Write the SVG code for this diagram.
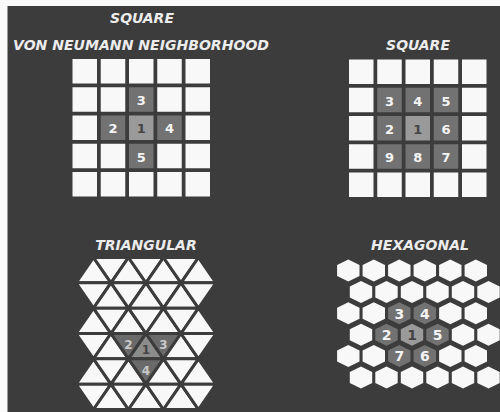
<svg xmlns="http://www.w3.org/2000/svg" xmlns:xlink="http://www.w3.org/1999/xlink" width="500" height="412" viewBox="0 0 500 412">
<style>
.title{font-family:"DejaVu Sans",Verdana,sans-serif;font-weight:bold;font-style:italic;font-size:14px;fill:#ececec;text-anchor:middle}
.num{font-family:"DejaVu Sans",Verdana,sans-serif;font-weight:bold;font-size:13px;text-anchor:middle}
.hnum{font-family:"DejaVu Sans",Verdana,sans-serif;font-weight:bold;font-size:14px;text-anchor:middle}
.tnum{font-family:"DejaVu Sans",Verdana,sans-serif;font-weight:bold;font-size:12px;text-anchor:middle}
.w{fill:#f8f8f8}
.c{fill:#9a9a9a}
.n{fill:#727272}
.tc{fill:#8c8c8c}
.tn{fill:#6a6a6a}
.tw{fill:#f8f8f8}
.tri polygon{stroke:#3c3c3c;stroke-width:3;stroke-linejoin:miter}
.lt{fill:#f4f4f4}
.dk{fill:#444444}
.lt2{fill:#c8c8c8}
</style>
<defs>
<polygon id="hex" points="0,-11 11.2,-5.5 11.2,5.5 0,11 -11.2,5.5 -11.2,-5.5" stroke-linejoin="round"/>
</defs>
<rect x="0" y="0" width="500" height="412" fill="#fafafa"/>
<rect x="7.5" y="6" width="492.5" height="406" fill="#3c3c3c"/>

<g id="titles">
<text class="title" x="142" y="23">SQUARE</text>
<text class="title" x="141" y="50" textLength="256" lengthAdjust="spacingAndGlyphs">VON NEUMANN NEIGHBORHOOD</text>
<text class="title" x="418" y="49.5">SQUARE</text>
<text class="title" x="146" y="249.5">TRIANGULAR</text>
<text class="title" x="420" y="249.5">HEXAGONAL</text>
</g>

<g id="connectors"/>

<g id="vonneumann">
<g id="vn-r0c0"><rect class="w" x="72.5" y="59" width="24.5" height="24.5"/></g>
<g id="vn-r0c1"><rect class="w" x="100.75" y="59" width="24.5" height="24.5"/></g>
<g id="vn-r0c2"><rect class="w" x="129" y="59" width="24.5" height="24.5"/></g>
<g id="vn-r0c3"><rect class="w" x="157.25" y="59" width="24.5" height="24.5"/></g>
<g id="vn-r0c4"><rect class="w" x="185.5" y="59" width="24.5" height="24.5"/></g>
<g id="vn-r1c0"><rect class="w" x="72.5" y="87.25" width="24.5" height="24.5"/></g>
<g id="vn-r1c1"><rect class="w" x="100.75" y="87.25" width="24.5" height="24.5"/></g>
<g id="vn-r1c2"><rect class="n" x="129" y="87.25" width="24.5" height="24.5"/><text class="num lt" x="141.25" y="105">3</text></g>
<g id="vn-r1c3"><rect class="w" x="157.25" y="87.25" width="24.5" height="24.5"/></g>
<g id="vn-r1c4"><rect class="w" x="185.5" y="87.25" width="24.5" height="24.5"/></g>
<g id="vn-r2c0"><rect class="w" x="72.5" y="115.5" width="24.5" height="24.5"/></g>
<g id="vn-r2c1"><rect class="n" x="100.75" y="115.5" width="24.5" height="24.5"/><text class="num lt" x="113" y="133.3">2</text></g>
<g id="vn-r2c2"><rect class="c" x="129" y="115.5" width="24.5" height="24.5"/><text class="num dk" x="141.25" y="133.3">1</text></g>
<g id="vn-r2c3"><rect class="n" x="157.25" y="115.5" width="24.5" height="24.5"/><text class="num lt" x="169.5" y="133.3">4</text></g>
<g id="vn-r2c4"><rect class="w" x="185.5" y="115.5" width="24.5" height="24.5"/></g>
<g id="vn-r3c0"><rect class="w" x="72.5" y="143.75" width="24.5" height="24.5"/></g>
<g id="vn-r3c1"><rect class="w" x="100.75" y="143.75" width="24.5" height="24.5"/></g>
<g id="vn-r3c2"><rect class="n" x="129" y="143.75" width="24.5" height="24.5"/><text class="num lt" x="141.25" y="161.5">5</text></g>
<g id="vn-r3c3"><rect class="w" x="157.25" y="143.75" width="24.5" height="24.5"/></g>
<g id="vn-r3c4"><rect class="w" x="185.5" y="143.75" width="24.5" height="24.5"/></g>
<g id="vn-r4c0"><rect class="w" x="72.5" y="172" width="24.5" height="24.5"/></g>
<g id="vn-r4c1"><rect class="w" x="100.75" y="172" width="24.5" height="24.5"/></g>
<g id="vn-r4c2"><rect class="w" x="129" y="172" width="24.5" height="24.5"/></g>
<g id="vn-r4c3"><rect class="w" x="157.25" y="172" width="24.5" height="24.5"/></g>
<g id="vn-r4c4"><rect class="w" x="185.5" y="172" width="24.5" height="24.5"/></g>
</g>

<g id="moore">
<g id="mo-r0c0"><rect class="w" x="349" y="59.5" width="24.5" height="24.5"/></g>
<g id="mo-r0c1"><rect class="w" x="377.25" y="59.5" width="24.5" height="24.5"/></g>
<g id="mo-r0c2"><rect class="w" x="405.5" y="59.5" width="24.5" height="24.5"/></g>
<g id="mo-r0c3"><rect class="w" x="433.75" y="59.5" width="24.5" height="24.5"/></g>
<g id="mo-r0c4"><rect class="w" x="462" y="59.5" width="24.5" height="24.5"/></g>
<g id="mo-r1c0"><rect class="w" x="349" y="87.75" width="24.5" height="24.5"/></g>
<g id="mo-r1c1"><rect class="n" x="377.25" y="87.75" width="24.5" height="24.5"/><text class="num lt" x="389.5" y="105.5">3</text></g>
<g id="mo-r1c2"><rect class="n" x="405.5" y="87.75" width="24.5" height="24.5"/><text class="num lt" x="417.75" y="105.5">4</text></g>
<g id="mo-r1c3"><rect class="n" x="433.75" y="87.75" width="24.5" height="24.5"/><text class="num lt" x="446" y="105.5">5</text></g>
<g id="mo-r1c4"><rect class="w" x="462" y="87.75" width="24.5" height="24.5"/></g>
<g id="mo-r2c0"><rect class="w" x="349" y="116" width="24.5" height="24.5"/></g>
<g id="mo-r2c1"><rect class="n" x="377.25" y="116" width="24.5" height="24.5"/><text class="num lt" x="389.5" y="133.8">2</text></g>
<g id="mo-r2c2"><rect class="c" x="405.5" y="116" width="24.5" height="24.5"/><text class="num dk" x="417.75" y="133.8">1</text></g>
<g id="mo-r2c3"><rect class="n" x="433.75" y="116" width="24.5" height="24.5"/><text class="num lt" x="446" y="133.8">6</text></g>
<g id="mo-r2c4"><rect class="w" x="462" y="116" width="24.5" height="24.5"/></g>
<g id="mo-r3c0"><rect class="w" x="349" y="144.25" width="24.5" height="24.5"/></g>
<g id="mo-r3c1"><rect class="n" x="377.25" y="144.25" width="24.5" height="24.5"/><text class="num lt" x="389.5" y="162">9</text></g>
<g id="mo-r3c2"><rect class="n" x="405.5" y="144.25" width="24.5" height="24.5"/><text class="num lt" x="417.75" y="162">8</text></g>
<g id="mo-r3c3"><rect class="n" x="433.75" y="144.25" width="24.5" height="24.5"/><text class="num lt" x="446" y="162">7</text></g>
<g id="mo-r3c4"><rect class="w" x="462" y="144.25" width="24.5" height="24.5"/></g>
<g id="mo-r4c0"><rect class="w" x="349" y="172.5" width="24.5" height="24.5"/></g>
<g id="mo-r4c1"><rect class="w" x="377.25" y="172.5" width="24.5" height="24.5"/></g>
<g id="mo-r4c2"><rect class="w" x="405.5" y="172.5" width="24.5" height="24.5"/></g>
<g id="mo-r4c3"><rect class="w" x="433.75" y="172.5" width="24.5" height="24.5"/></g>
<g id="mo-r4c4"><rect class="w" x="462" y="172.5" width="24.5" height="24.5"/></g>
</g>

<g id="triangular" class="tri">
<g id="tr-r0c0"><polygon class="tw" points="76,282.8 93.5,257.5 111,282.8"/></g>
<g id="tr-r0c1"><polygon class="tw" points="93.5,257.5 128.5,257.5 111,282.8"/></g>
<g id="tr-r0c2"><polygon class="tw" points="111,282.8 128.5,257.5 146,282.8"/></g>
<g id="tr-r0c3"><polygon class="tw" points="128.5,257.5 163.5,257.5 146,282.8"/></g>
<g id="tr-r0c4"><polygon class="tw" points="146,282.8 163.5,257.5 181,282.8"/></g>
<g id="tr-r0c5"><polygon class="tw" points="163.5,257.5 198.5,257.5 181,282.8"/></g>
<g id="tr-r0c6"><polygon class="tw" points="181,282.8 198.5,257.5 216,282.8"/></g>
<g id="tr-r1c0"><polygon class="tw" points="76,282.8 111,282.8 93.5,308.2"/></g>
<g id="tr-r1c1"><polygon class="tw" points="93.5,308.2 111,282.8 128.5,308.2"/></g>
<g id="tr-r1c2"><polygon class="tw" points="111,282.8 146,282.8 128.5,308.2"/></g>
<g id="tr-r1c3"><polygon class="tw" points="128.5,308.2 146,282.8 163.5,308.2"/></g>
<g id="tr-r1c4"><polygon class="tw" points="146,282.8 181,282.8 163.5,308.2"/></g>
<g id="tr-r1c5"><polygon class="tw" points="163.5,308.2 181,282.8 198.5,308.2"/></g>
<g id="tr-r1c6"><polygon class="tw" points="181,282.8 216,282.8 198.5,308.2"/></g>
<g id="tr-r2c0"><polygon class="tw" points="76,333.5 93.5,308.2 111,333.5"/></g>
<g id="tr-r2c1"><polygon class="tw" points="93.5,308.2 128.5,308.2 111,333.5"/></g>
<g id="tr-r2c2"><polygon class="tw" points="111,333.5 128.5,308.2 146,333.5"/></g>
<g id="tr-r2c3"><polygon class="tw" points="128.5,308.2 163.5,308.2 146,333.5"/></g>
<g id="tr-r2c4"><polygon class="tw" points="146,333.5 163.5,308.2 181,333.5"/></g>
<g id="tr-r2c5"><polygon class="tw" points="163.5,308.2 198.5,308.2 181,333.5"/></g>
<g id="tr-r2c6"><polygon class="tw" points="181,333.5 198.5,308.2 216,333.5"/></g>
<g id="tr-r3c0"><polygon class="tw" points="76,333.5 111,333.5 93.5,358.8"/></g>
<g id="tr-r3c1"><polygon class="tw" points="93.5,358.8 111,333.5 128.5,358.8"/></g>
<g id="tr-r3c2"><polygon class="tn" points="111,333.5 146,333.5 128.5,358.8"/><text class="tnum lt2" x="128.5" y="349">2</text></g>
<g id="tr-r3c3"><polygon class="tc" points="128.5,358.8 146,333.5 163.5,358.8"/><text class="tnum dk" x="146" y="353.5">1</text></g>
<g id="tr-r3c4"><polygon class="tn" points="146,333.5 181,333.5 163.5,358.8"/><text class="tnum lt2" x="163.5" y="349">3</text></g>
<g id="tr-r3c5"><polygon class="tw" points="163.5,358.8 181,333.5 198.5,358.8"/></g>
<g id="tr-r3c6"><polygon class="tw" points="181,333.5 216,333.5 198.5,358.8"/></g>
<g id="tr-r4c0"><polygon class="tw" points="76,384.2 93.5,358.8 111,384.2"/></g>
<g id="tr-r4c1"><polygon class="tw" points="93.5,358.8 128.5,358.8 111,384.2"/></g>
<g id="tr-r4c2"><polygon class="tw" points="111,384.2 128.5,358.8 146,384.2"/></g>
<g id="tr-r4c3"><polygon class="tn" points="128.5,358.8 163.5,358.8 146,384.2"/><text class="tnum lt2" x="146" y="375">4</text></g>
<g id="tr-r4c4"><polygon class="tw" points="146,384.2 163.5,358.8 181,384.2"/></g>
<g id="tr-r4c5"><polygon class="tw" points="163.5,358.8 198.5,358.8 181,384.2"/></g>
<g id="tr-r4c6"><polygon class="tw" points="181,384.2 198.5,358.8 216,384.2"/></g>
<g id="tr-r5c0"><polygon class="tw" points="76,384.2 111,384.2 93.5,409.5"/></g>
<g id="tr-r5c1"><polygon class="tw" points="93.5,409.5 111,384.2 128.5,409.5"/></g>
<g id="tr-r5c2"><polygon class="tw" points="111,384.2 146,384.2 128.5,409.5"/></g>
<g id="tr-r5c3"><polygon class="tw" points="128.5,409.5 146,384.2 163.5,409.5"/></g>
<g id="tr-r5c4"><polygon class="tw" points="146,384.2 181,384.2 163.5,409.5"/></g>
<g id="tr-r5c5"><polygon class="tw" points="163.5,409.5 181,384.2 198.5,409.5"/></g>
<g id="tr-r5c6"><polygon class="tw" points="181,384.2 216,384.2 198.5,409.5"/></g>
</g>

<g id="hexagonal">
<g id="hx-r0c0"><use href="#hex" xlink:href="#hex" class="w" x="348.3" y="270.5"/></g>
<g id="hx-r0c1"><use href="#hex" xlink:href="#hex" class="w" x="373.8" y="270.5"/></g>
<g id="hx-r0c2"><use href="#hex" xlink:href="#hex" class="w" x="399.3" y="270.5"/></g>
<g id="hx-r0c3"><use href="#hex" xlink:href="#hex" class="w" x="424.8" y="270.5"/></g>
<g id="hx-r0c4"><use href="#hex" xlink:href="#hex" class="w" x="450.3" y="270.5"/></g>
<g id="hx-r0c5"><use href="#hex" xlink:href="#hex" class="w" x="475.8" y="270.5"/></g>
<g id="hx-r1c0"><use href="#hex" xlink:href="#hex" class="w" x="361" y="291.9"/></g>
<g id="hx-r1c1"><use href="#hex" xlink:href="#hex" class="w" x="386.5" y="291.9"/></g>
<g id="hx-r1c2"><use href="#hex" xlink:href="#hex" class="w" x="412" y="291.9"/></g>
<g id="hx-r1c3"><use href="#hex" xlink:href="#hex" class="w" x="437.5" y="291.9"/></g>
<g id="hx-r1c4"><use href="#hex" xlink:href="#hex" class="w" x="463" y="291.9"/></g>
<g id="hx-r1c5"><use href="#hex" xlink:href="#hex" class="w" x="488.5" y="291.9"/></g>
<g id="hx-r2c0"><use href="#hex" xlink:href="#hex" class="w" x="348.3" y="313.3"/></g>
<g id="hx-r2c1"><use href="#hex" xlink:href="#hex" class="w" x="373.8" y="313.3"/></g>
<g id="hx-r2c2"><use href="#hex" xlink:href="#hex" class="n" x="399.3" y="313.3"/><text class="hnum lt" x="399.3" y="318.5">3</text></g>
<g id="hx-r2c3"><use href="#hex" xlink:href="#hex" class="n" x="424.8" y="313.3"/><text class="hnum lt" x="424.8" y="318.5">4</text></g>
<g id="hx-r2c4"><use href="#hex" xlink:href="#hex" class="w" x="450.3" y="313.3"/></g>
<g id="hx-r2c5"><use href="#hex" xlink:href="#hex" class="w" x="475.8" y="313.3"/></g>
<g id="hx-r3c0"><use href="#hex" xlink:href="#hex" class="w" x="361" y="334.7"/></g>
<g id="hx-r3c1"><use href="#hex" xlink:href="#hex" class="n" x="386.5" y="334.7"/><text class="hnum lt" x="386.5" y="339.9">2</text></g>
<g id="hx-r3c2"><use href="#hex" xlink:href="#hex" class="c" x="412" y="334.7"/><text class="hnum dk" x="412" y="339.9">1</text></g>
<g id="hx-r3c3"><use href="#hex" xlink:href="#hex" class="n" x="437.5" y="334.7"/><text class="hnum lt" x="437.5" y="339.9">5</text></g>
<g id="hx-r3c4"><use href="#hex" xlink:href="#hex" class="w" x="463" y="334.7"/></g>
<g id="hx-r3c5"><use href="#hex" xlink:href="#hex" class="w" x="488.5" y="334.7"/></g>
<g id="hx-r4c0"><use href="#hex" xlink:href="#hex" class="w" x="348.3" y="356.1"/></g>
<g id="hx-r4c1"><use href="#hex" xlink:href="#hex" class="w" x="373.8" y="356.1"/></g>
<g id="hx-r4c2"><use href="#hex" xlink:href="#hex" class="n" x="399.3" y="356.1"/><text class="hnum lt" x="399.3" y="361.3">7</text></g>
<g id="hx-r4c3"><use href="#hex" xlink:href="#hex" class="n" x="424.8" y="356.1"/><text class="hnum lt" x="424.8" y="361.3">6</text></g>
<g id="hx-r4c4"><use href="#hex" xlink:href="#hex" class="w" x="450.3" y="356.1"/></g>
<g id="hx-r4c5"><use href="#hex" xlink:href="#hex" class="w" x="475.8" y="356.1"/></g>
<g id="hx-r5c0"><use href="#hex" xlink:href="#hex" class="w" x="361" y="377.5"/></g>
<g id="hx-r5c1"><use href="#hex" xlink:href="#hex" class="w" x="386.5" y="377.5"/></g>
<g id="hx-r5c2"><use href="#hex" xlink:href="#hex" class="w" x="412" y="377.5"/></g>
<g id="hx-r5c3"><use href="#hex" xlink:href="#hex" class="w" x="437.5" y="377.5"/></g>
<g id="hx-r5c4"><use href="#hex" xlink:href="#hex" class="w" x="463" y="377.5"/></g>
<g id="hx-r5c5"><use href="#hex" xlink:href="#hex" class="w" x="488.5" y="377.5"/></g>
</g>
</svg>
